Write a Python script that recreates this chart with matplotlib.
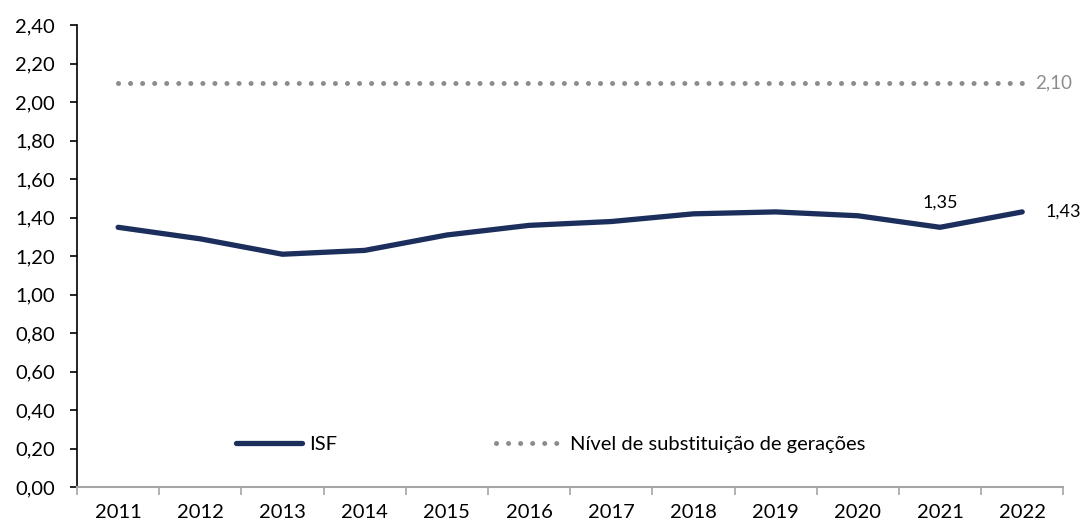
import matplotlib
matplotlib.use("Agg")
import matplotlib.pyplot as plt
from matplotlib.ticker import FixedLocator, FuncFormatter

years = ["2011", "2012", "2013", "2014", "2015", "2016", "2017", "2018", "2019", "2020", "2021", "2022"]
isf = [1.35, 1.29, 1.21, 1.23, 1.31, 1.36, 1.38, 1.42, 1.43, 1.41, 1.35, 1.43]
substituicao = [2.10] * len(years)
y_ticks = [0.0, 0.2, 0.4, 0.6, 0.8, 1.0, 1.2, 1.4, 1.6, 1.8, 2.0, 2.2, 2.4]

plt.rcParams['font.family'] = ['Lato', 'DejaVu Sans']

fig = plt.figure(figsize=(10.85, 5.26), dpi=100)
ax = fig.add_axes([0.071, 0.074, 0.909, 0.878])

x = list(range(len(years)))
navy = '#1c2e5c'
gray = '#8c8c8c'

ax.plot(x, isf, color=navy, lw=3.8, solid_capstyle='round', solid_joinstyle='round', label='ISF')
ax.plot(x, substituicao, color=gray, lw=3.6, linestyle=(0, (0.01, 2.4)), dash_capstyle='round',
        label='Nível de substituição de gerações')

ax.set_xlim(-0.5, len(years) - 0.5)
ax.set_ylim(0, 2.4)
ax.yaxis.set_major_locator(FixedLocator(y_ticks))
ax.yaxis.set_major_formatter(FuncFormatter(lambda v, p: f"{v:.2f}".replace('.', ',')))

ax.set_xticks(x)
ax.set_xticklabels(years)
ax.set_xticks([i - 0.5 for i in range(len(years) + 1)], minor=True)
ax.tick_params(axis='x', which='major', length=0, pad=12, labelsize=14.5)
ax.tick_params(axis='x', which='minor', length=6, color='#a6a6a6', width=1.2)
ax.tick_params(axis='y', which='major', length=5, width=1.2, color='black', labelsize=14.5, pad=11)

for s in ['top', 'right']:
    ax.spines[s].set_visible(False)
ax.spines['left'].set_color('black')
ax.spines['left'].set_linewidth(1.2)
ax.spines['bottom'].set_color('#a6a6a6')
ax.spines['bottom'].set_linewidth(1.5)

ax.annotate(f"{isf[-2]:.2f}".replace('.', ','), (x[-2], isf[-2]), xytext=(0, 12),
            textcoords='offset points', ha='center', va='bottom', fontsize=13)
ax.annotate(f"{isf[-1]:.2f}".replace('.', ','), (x[-1], isf[-1]), xytext=(17, 0),
            textcoords='offset points', ha='left', va='center', fontsize=13)
ax.annotate(f"{substituicao[-1]:.2f}".replace('.', ','), (x[-1], substituicao[-1]), xytext=(9, 0),
            textcoords='offset points', ha='left', va='center', fontsize=13.5, color=gray)

leg = ax.legend(loc='center', bbox_to_anchor=(0.48, 0.093), ncol=2, frameon=False,
                fontsize=14.5, handlelength=3.3, handletextpad=0.35, columnspacing=7.9)

fig.savefig('out.png', dpi=100)
